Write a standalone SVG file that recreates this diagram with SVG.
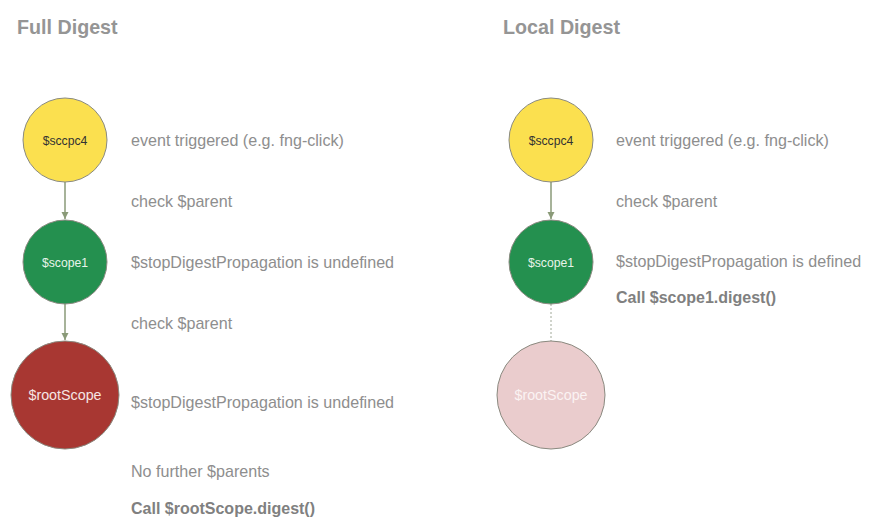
<svg xmlns="http://www.w3.org/2000/svg" width="879" height="532" viewBox="0 0 879 532">
<style>
.t{font-family:"Liberation Sans",Arial,sans-serif;font-size:16.1px;fill:#8e8e8e}
.b{font-family:"Liberation Sans",Arial,sans-serif;font-size:16px;font-weight:bold;fill:#808080}
.h{font-family:"Liberation Sans",Arial,sans-serif;font-size:19.7px;font-weight:bold;fill:#959595}
.n{font-family:"Liberation Sans",Arial,sans-serif;font-size:12.2px;text-anchor:middle}
.c{stroke:#8a8a80;stroke-width:1}
.e{stroke:#8a9a78;stroke-width:1.5;fill:none}
</style>
<defs>
<marker id="ah" viewBox="0 0 10 10" refX="10" refY="5" markerWidth="7" markerHeight="8" markerUnits="userSpaceOnUse" orient="auto">
<path d="M0,0 L10,5 L0,10 z" fill="#8a9a78"/>
</marker>
</defs>
<rect width="879" height="532" fill="#ffffff"/>
<text class="h" x="17" y="34">Full Digest</text>
<text class="h" x="503" y="34">Local Digest</text>
<g id="connectors">
<line class="e" x1="65" y1="182" x2="65" y2="219" marker-end="url(#ah)"/>
<line class="e" x1="65" y1="304" x2="65" y2="340" marker-end="url(#ah)"/>
<line class="e" x1="551" y1="182" x2="551" y2="219" marker-end="url(#ah)"/>
<line x1="551" y1="304" x2="551" y2="341" stroke="#a0a898" stroke-width="1" stroke-dasharray="2,2"/>
</g>
<g id="full-scope4">
<circle class="c" cx="65" cy="140" r="42" fill="#fbe04f"/>
<text class="n" x="65" y="145" fill="#333">$sccpc4</text>
</g>
<g id="full-scope1">
<circle class="c" cx="65" cy="262" r="42" fill="#24904f"/>
<text class="n" x="65" y="267" fill="#e8f4ea">$scope1</text>
</g>
<g id="full-root">
<circle class="c" cx="65" cy="395" r="54" fill="#a83732"/>
<text class="n" x="65" y="400" fill="#f6e6e4" style="font-size:14.3px">$rootScope</text>
</g>
<g id="local-scope4">
<circle class="c" cx="551" cy="140" r="42" fill="#fbe04f"/>
<text class="n" x="551" y="145" fill="#333">$sccpc4</text>
</g>
<g id="local-scope1">
<circle class="c" cx="551" cy="262" r="42" fill="#24904f"/>
<text class="n" x="551" y="267" fill="#e8f4ea">$scope1</text>
</g>
<g id="local-root">
<circle class="c" cx="551" cy="395" r="54" fill="#eacccd"/>
<text class="n" x="551" y="400" fill="#fbf3f3" style="font-size:14.3px">$rootScope</text>
</g>
<g id="full-labels">
<text class="t" x="131" y="146">event triggered (e.g. fng-click)</text>
<text class="t" x="131" y="207">check $parent</text>
<text class="t" x="131" y="268">$stopDigestPropagation is undefined</text>
<text class="t" x="131" y="329">check $parent</text>
<text class="t" x="131" y="408">$stopDigestPropagation is undefined</text>
<text class="t" x="131" y="477">No further $parents</text>
<text class="b" x="131" y="514">Call $rootScope.digest()</text>
</g>
<g id="local-labels">
<text class="t" x="616" y="146">event triggered (e.g. fng-click)</text>
<text class="t" x="616" y="207">check $parent</text>
<text class="t" x="616" y="267">$stopDigestPropagation is defined</text>
<text class="b" x="616" y="303">Call $scope1.digest()</text>
</g>
</svg>
